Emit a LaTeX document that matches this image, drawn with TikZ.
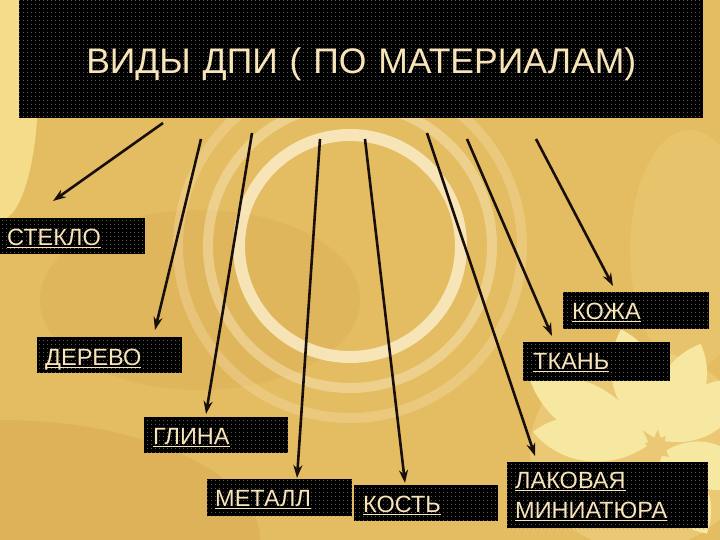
\documentclass[tikz,border=0pt]{standalone}
\usepackage{fontspec}
\setmainfont{Liberation Sans}
\usetikzlibrary{arrows.meta,patterns.meta}
\definecolor{bgmain}{RGB}{228,188,98}
\definecolor{bgdark}{RGB}{212,162,74}
\definecolor{bglight}{RGB}{250,228,150}
\definecolor{petal}{RGB}{246,232,160}
\definecolor{ringc}{RGB}{252,240,205}
\definecolor{textc}{RGB}{248,228,185}
\definecolor{arrc}{RGB}{25,15,10}
\newcommand\ulk[1]{\leavevmode\setbox0\hbox{#1}\rlap{\rule[-3pt]{\wd0}{1.6pt}}\box0}
\tikzset{
  box/.style={anchor=north west, inner ysep=0pt, align=left, text=textc,
    preaction={fill=black}, pattern={Dots[distance=4pt,radius=0.55pt]},
    pattern color=white!60!black, font=\fontsize{23.5}{30}\selectfont},
  titlebox/.style={anchor=north west, inner sep=0pt, align=center, text=textc,
    preaction={fill=black}, pattern={Dots[distance=4pt,radius=0.55pt]},
    pattern color=white!60!black, font=\fontsize{35.5}{40}\selectfont},
  arr/.style={draw=arrc, line width=2.6pt, -{Stealth[length=13pt,width=9pt]}},
  petalfill/.style={fill=petal}
}
\begin{document}
\begin{tikzpicture}[x=1pt,y=-1pt]
\useasboundingbox (0,0) rectangle (720,540);
% background
\begin{scope}
\clip (0,0) rectangle (720,540);
\fill[bgmain] (0,0) rectangle (720,540);
\fill[bgdark, opacity=.35] (0,540) ellipse [x radius=260, y radius=120];
\fill[bgdark, opacity=.2] (200,300) ellipse [x radius=160, y radius=90];
\fill[bglight, opacity=.8] (0,90) ellipse [x radius=38, y radius=130];
\fill[bglight, opacity=.18] (690,250) ellipse [x radius=60, y radius=120];
\fill[bglight, opacity=.35] (640,450) ellipse [x radius=110, y radius=100];
% rings
\draw[ringc, opacity=.25, line width=10pt] (350,246) circle [radius=172];
\draw[ringc, opacity=.4, line width=10pt] (350,246) circle [radius=142];
\draw[ringc, opacity=.8, line width=12pt] (350,246) circle [radius=111];
% flower
\foreach \a/\l/\w in {152/144/34,107/123/32,67/112/30,37/110/30,173/125/30,-20/100/30,-60/100/30} {
  \begin{scope}[shift={(657,447)}, rotate=\a]
  \fill[petalfill] (10,0) .. controls ({0.35*\l},\w) and ({0.75*\l},\w) .. (\l,0)
    .. controls ({0.75*\l},-\w) and ({0.35*\l},-\w) .. (10,0);
  \end{scope}
}
\end{scope}
% title
\node[titlebox, text width=684pt, text height=73pt, text depth=45pt] (title) at (19,0)
  {ВИДЫ ДПИ ( ПО МАТЕРИАЛАМ)};
% boxes
\node[box, inner xsep=7pt, text width=131pt, text height=27pt, text depth=9pt] (stek) at (0,218) {\ulk{СТЕКЛО}};
\node[box, inner xsep=8pt, text width=129pt, text height=28pt, text depth=8pt] (derevo) at (37,337) {\ulk{ДЕРЕВО}};
\node[box, inner xsep=9pt, text width=128pt, text height=27pt, text depth=10pt] (kozha) at (563,292) {\ulk{КОЖА}};
\node[box, inner xsep=10pt, text width=127pt, text height=27pt, text depth=12pt] (tkan) at (523,342) {\ulk{ТКАНЬ}};
\node[box, inner xsep=9pt, text width=126pt, text height=27pt, text depth=9pt] (glina) at (144,417) {\ulk{ГЛИНА}};
\node[box, inner xsep=8pt, text width=129pt, text height=27pt, text depth=10pt] (metall) at (207,479) {\ulk{МЕТАЛЛ}};
\node[box, inner xsep=9pt, text width=126pt, text height=27pt, text depth=9pt] (kost) at (354,485) {\ulk{КОСТЬ}};
\node[box, inner xsep=8pt, text width=185pt, text height=26pt, text depth=40pt] (lak) at (507,462) {\ulk{ЛАКОВАЯ}\\\ulk{МИНИАТЮРА}};
% arrow ends
\coordinate (s1) at (163,123); \coordinate (e1) at (53,201);
\coordinate (s2) at (201,139); \coordinate (e2) at (155,330);
\coordinate (s3) at (252,133); \coordinate (e3) at (206,414);
\coordinate (s4) at (320,139); \coordinate (e4) at (297,478);
\coordinate (s5) at (365,139); \coordinate (e5) at (405,483);
\coordinate (s6) at (427,133); \coordinate (e6) at (535,456);
\coordinate (s7) at (467,139); \coordinate (e7) at (552,336);
\coordinate (s8) at (536,139); \coordinate (e8) at (613,286);
\draw[arr] (s1) -- (e1);
\draw[arr] (s2) -- (e2);
\draw[arr] (s3) -- (e3);
\draw[arr] (s4) -- (e4);
\draw[arr] (s5) -- (e5);
\draw[arr] (s6) -- (e6);
\draw[arr] (s7) -- (e7);
\draw[arr] (s8) -- (e8);
\end{tikzpicture}
\end{document}
